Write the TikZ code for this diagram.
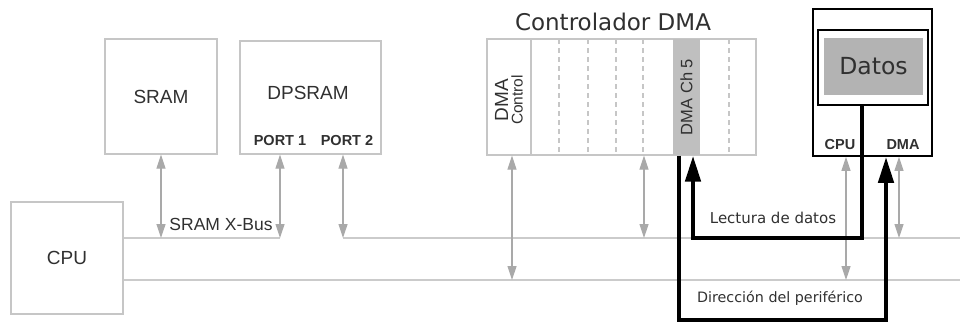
\documentclass[tikz,border=0pt]{standalone}
\usepackage{fontspec}
\setmainfont{Liberation Sans}
\newfontfamily\djv{DejaVu Sans}
\usetikzlibrary{arrows.meta,positioning}
\definecolor{boxgray}{HTML}{C6C6C6}
\definecolor{busgray}{HTML}{CBCBCB}
\definecolor{arrowgray}{HTML}{A9A9A9}
\definecolor{chgray}{HTML}{BFBFBF}
\definecolor{datagray}{HTML}{B3B3B3}
\definecolor{inkgray}{HTML}{303030}

\begin{document}
\begin{tikzpicture}[
  x=1pt,y=-1pt,
  blk/.style={draw=boxgray,line width=1.2pt,inner sep=0pt,text=inkgray,
    font=\fontsize{19}{22}\selectfont},
  portlbl/.style={font=\bfseries\fontsize{14.5}{16}\selectfont,text=inkgray,inner sep=0pt},
  tag/.style={font=\djv\fontsize{15}{18}\selectfont,text=inkgray,inner sep=0pt},
  bus/.style={draw=busgray,line width=1.4pt},
  link/.style={{Triangle[length=14pt,width=9pt]}-{Triangle[length=14pt,width=9pt]},
    draw=arrowgray,line width=1.2pt},
  flow/.style={-{Triangle[length=26pt,width=15pt]},line width=4.5pt,draw=black},
  divider/.style={draw=boxgray,line width=1.2pt},
  dashdiv/.style={draw=boxgray,line width=1.2pt,dash pattern=on 5pt off 4pt},
  periphbox/.style={draw=black,line width=1.6pt,inner sep=0pt}
]
\useasboundingbox (0,0) rectangle (960,325);

% CPU and the two memories
\node[blk,minimum width=112pt,minimum height=112pt] (cpu) at (67,258) {CPU};
\node[blk,minimum width=112pt,minimum height=115pt] (sram) at (161,96.5) {SRAM};
\node[blk,minimum width=141pt,minimum height=113pt] (dpsram) at (310.5,97.5) {};
\node[font=\fontsize{19}{22}\selectfont,text=inkgray] (dpsramlbl) at (308,93) {DPSRAM};
\node[portlbl] (port1) at (280,141) {PORT 1};
\node[portlbl] (port2) at (347,141) {PORT 2};

% buses
\coordinate (xbusend) at (280,238);
\coordinate (ybusstart) at (343,238);
\coordinate (ybusend) at (960,238);
\coordinate (mainbusend) at (960,280);
\draw[bus] (cpu.east |- xbusend) -- (xbusend);
\draw[bus] (ybusstart) -- (ybusend);
\draw[bus] (cpu.east |- mainbusend) -- (mainbusend);
\node[font=\fontsize{17.5}{20}\selectfont,text=inkgray,inner sep=0pt] (xbuslbl) at (221,224) {SRAM X-Bus};
\draw[link] (sram.south) -- (sram.south |- xbusend);
\draw[link] (xbusend |- dpsram.south) -- (xbusend);
\draw[link] (ybusstart |- dpsram.south) -- (ybusstart);

% DMA controller
\node[font=\djv\fontsize{23}{26}\selectfont,text=inkgray] (dmactitle) at (613,22) {Controlador DMA};
\node[blk,minimum width=269pt,minimum height=116pt] (dmac) at (621.5,97) {};
\node[fill=chgray,minimum width=116pt,minimum height=27pt,inner sep=0pt,rotate=90,
  font=\fontsize{16.5}{18}\selectfont,text=inkgray] (ch5) at (686.5,97) {DMA Ch 5};
\draw[divider] (531,39) -- (531,155);
\foreach \xx in {559,588,616,643,729}
  \draw[dashdiv] (\xx,39) -- (\xx,155);
\node[rotate=90,align=center,inner sep=0pt,text=inkgray,
  font=\fontsize{15.5}{14.5}\selectfont] (dmactrl) at (509,100)
  {{\fontsize{19}{14.5}\selectfont DMA}\\Control};
\coordinate (ctlbus) at (512,280);
\coordinate (chbus) at (644,238);
\draw[link] (ctlbus |- dmac.south) -- (ctlbus);
\draw[link] (chbus |- dmac.south) -- (chbus);

% peripheral
\node[periphbox,minimum width=119pt,minimum height=147pt] (periph) at (872.5,82.5) {};
\node[periphbox,minimum width=110pt,minimum height=75pt] (datbox) at (873,67.5) {};
\node[fill=datagray,minimum width=99pt,minimum height=57pt,inner sep=0pt,
  font=\djv\fontsize{23.5}{26}\selectfont,text=inkgray] (datos) at (873.5,66.5) {Datos};
\node[portlbl] (pcpu) at (840,145) {CPU};
\node[portlbl] (pdma) at (903,145) {DMA};
\coordinate (pcpubus) at (846,280);
\coordinate (pdmabus) at (899,238);
\draw[link] (pcpubus |- periph.south) -- (pcpubus);
\draw[link] (pdmabus |- periph.south) -- (pdmabus);

% transfer paths
\coordinate (rdturn) at (862,238);
\coordinate (rdcorner) at (693,238);
\draw[flow] (rdturn |- datbox.south) -- (rdturn) -- (rdcorner) -- (rdcorner |- dmac.south);
\coordinate (adleft) at (679,320);
\coordinate (adright) at (886,320);
\draw[flow] (adleft |- dmac.south) -- (adleft) -- (adright) -- (adright |- periph.south);
\node[tag] (rdlbl) at (773,218) {Lectura de datos};
\node[tag,font=\djv\fontsize{14.3}{17}\selectfont] (adlbl) at (780,298) {Dirección del periférico};
\end{tikzpicture}
\end{document}
